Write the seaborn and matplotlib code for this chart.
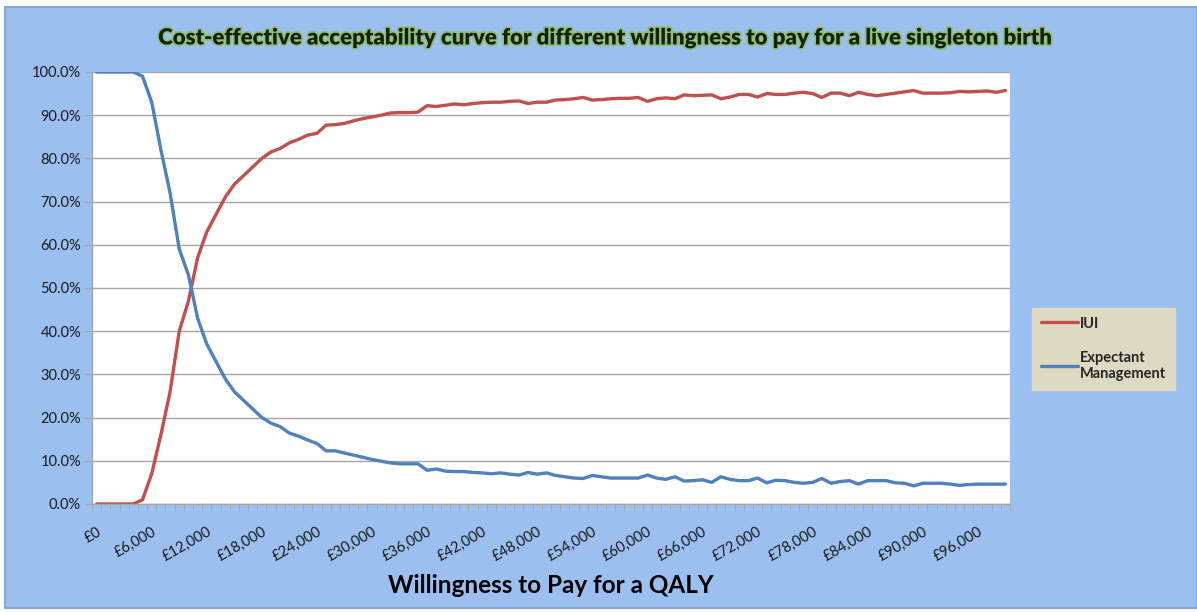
"""
Cost-effectiveness acceptability curve: IUI vs expectant management
"""
import pandas as pd
import matplotlib.pyplot as plt
import matplotlib.patheffects as pe
from matplotlib.patches import Rectangle
from matplotlib.ticker import FuncFormatter, PercentFormatter, MultipleLocator
import seaborn as sns

sns.set_style("white")
plt.rcParams["font.family"] = ["Lato", "DejaVu Sans"]

# ---------------------------------------------------------------
# Data
# ---------------------------------------------------------------
wtp = list(range(0, 100000, 1000))  # £0 .. £99,000 in £1,000 steps

iui = [0, 0, 0, 0, 0, 1, 7, 16, 26, 40,
       47, 57, 63, 67, 71, 74, 76, 78, 80, 81.5,
       82.3, 83.6, 84.4, 85.4, 85.8, 87.7, 87.8, 88.1, 88.7, 89.2,
       89.6, 90.0, 90.5, 90.6, 90.6, 90.7, 92.2, 92.0, 92.3, 92.6,
       92.4, 92.7, 92.9, 93.0, 93.0, 93.2, 93.3, 92.7, 93.0, 93.0,
       93.5, 93.6, 93.8, 94.1, 93.5, 93.6, 93.8, 93.9, 93.9, 94.1,
       93.2, 93.8, 94.0, 93.8, 94.7, 94.5, 94.6, 94.7, 93.8, 94.2,
       94.8, 94.8, 94.2, 95.0, 94.8, 94.8, 95.1, 95.3, 95.0, 94.1,
       95.1, 95.1, 94.5, 95.3, 94.8, 94.5, 94.8, 95.1, 95.4, 95.7,
       95.1, 95.1, 95.1, 95.2, 95.5, 95.4, 95.5, 95.6, 95.3, 95.7]

expectant = [100, 100, 100, 100, 100, 99, 93, 82, 72, 59,
             53, 43, 37, 33, 29, 26, 24, 22, 20, 18.7,
             17.9, 16.4, 15.7, 14.8, 14.0, 12.3, 12.3, 11.8, 11.3, 10.8,
             10.3, 9.9, 9.5, 9.3, 9.3, 9.3, 7.8, 8.1, 7.6, 7.5,
             7.5, 7.3, 7.2, 7.0, 7.2, 6.9, 6.7, 7.3, 6.9, 7.2,
             6.6, 6.3, 6.0, 5.9, 6.6, 6.3, 6.0, 6.0, 6.0, 6.0,
             6.7, 6.0, 5.7, 6.3, 5.3, 5.4, 5.6, 5.0, 6.3, 5.7,
             5.4, 5.4, 6.0, 4.9, 5.5, 5.4, 5.0, 4.8, 5.0, 5.9,
             4.8, 5.2, 5.4, 4.6, 5.4, 5.4, 5.4, 4.9, 4.8, 4.2,
             4.8, 4.8, 4.8, 4.6, 4.3, 4.5, 4.6, 4.6, 4.6, 4.6]

SERIES = {"IUI": iui, "Expectant\nManagement": expectant}
PALETTE = {"IUI": "#C0504D", "Expectant\nManagement": "#4F81BD"}

df = pd.DataFrame({"wtp": wtp, **SERIES}).melt(
    id_vars="wtp", var_name="strategy", value_name="prob")

# ---------------------------------------------------------------
# Figure
# ---------------------------------------------------------------
fig = plt.figure(figsize=(11.97, 6.12), dpi=100, facecolor="white")
fig.patches.append(Rectangle((0.004, 0.006), 0.996, 0.982, transform=fig.transFigure,
                             facecolor="#9BBFEE", edgecolor="#86A6D6", linewidth=1.5,
                             zorder=-10))
ax = fig.add_axes([0.0769, 0.1765, 0.7669, 0.7059])
ax.set_facecolor("white")

sns.lineplot(data=df, x="wtp", y="prob", hue="strategy", palette=PALETTE,
             linewidth=2.4, ax=ax, legend=True)

ax.set_xlim(-500, 99500)
ax.set_ylim(0, 100)

# y axis
ax.yaxis.set_major_locator(MultipleLocator(10))
ax.yaxis.set_major_formatter(PercentFormatter(decimals=1))
ax.grid(axis="y", color="#A6A6A6", linewidth=1)
ax.tick_params(axis="y", direction="out", length=5, color="#A6A6A6",
               labelsize=10.5, labelcolor="#1A1A1A", pad=3, left=True)

# x axis: labels every £6,000, ticks between categories
ax.xaxis.set_major_locator(MultipleLocator(6000))
ax.xaxis.set_minor_locator(MultipleLocator(1000, offset=500))
ax.xaxis.set_major_formatter(FuncFormatter(lambda v, p: f"£{int(v):,}"))
ax.tick_params(axis="x", which="major", length=0, labelsize=10.5, labelcolor="#1A1A1A", pad=15)
ax.tick_params(axis="x", which="minor", direction="out", length=5, color="#A6A6A6",
               bottom=True)
for lbl in ax.get_xticklabels():
    lbl.set_rotation(30)
    lbl.set_ha("right")
    lbl.set_rotation_mode("anchor")

for side in ["top", "right"]:
    ax.spines[side].set_visible(False)
for side in ["left", "bottom"]:
    ax.spines[side].set_color("#A6A6A6")
    ax.spines[side].set_linewidth(1)

ax.set_ylabel("")
ax.set_xlabel("Willingness to Pay for a QALY", fontsize=17.5, fontweight="bold",
              color="black", labelpad=7)

leg = ax.legend(loc="upper left", bbox_to_anchor=(0.862, 0.497),
                bbox_transform=fig.transFigure, frameon=True, fancybox=False,
                facecolor="#DDD9C3", edgecolor="#DDD9C3", framealpha=1,
                prop={"weight": "bold", "size": 10.5}, handlelength=2.6,
                handletextpad=0.1, labelspacing=1.4, borderpad=0.6, borderaxespad=0)
for line in leg.get_lines():
    line.set_linewidth(2.4)

fig.text(0.505, 0.938,
         "Cost-effective acceptability curve for different willingness to pay for a live singleton birth",
         ha="center", va="center", fontsize=16, fontweight="heavy", color="#15200F",
         path_effects=[pe.withStroke(linewidth=2.5, foreground="#8FC07A")])

plt.savefig("out.png", dpi=100, facecolor=fig.get_facecolor())
plt.close()
